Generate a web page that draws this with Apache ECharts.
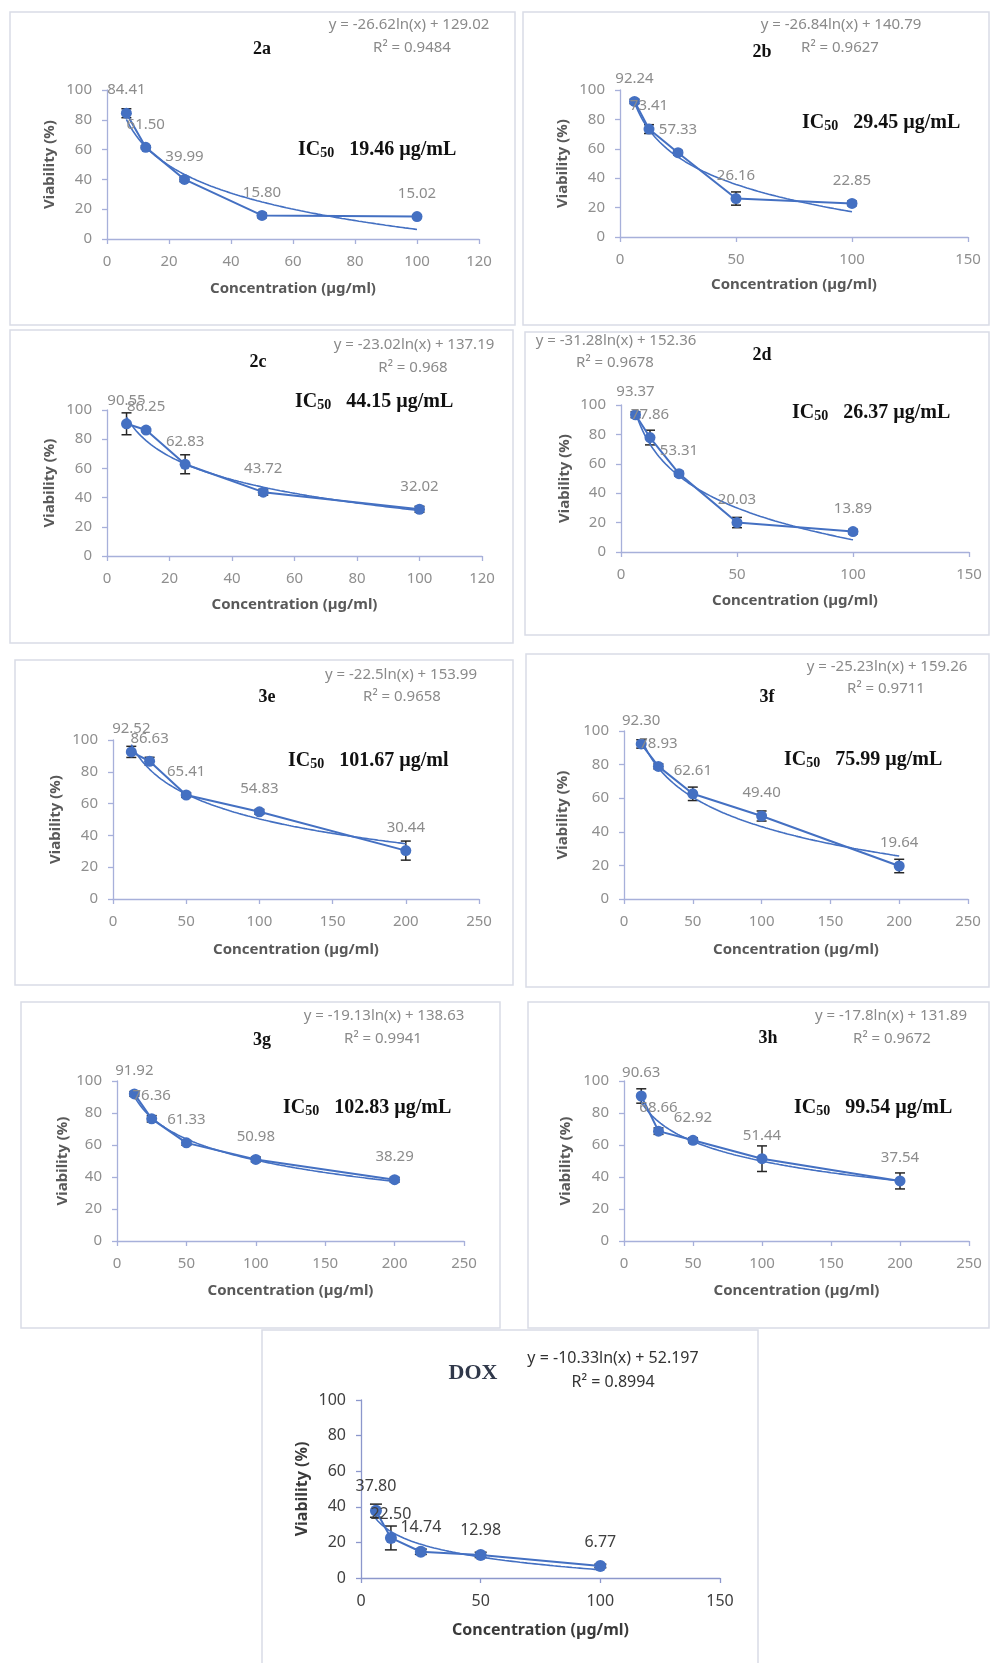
<!DOCTYPE html>
<html><head><meta charset="utf-8">
<script src="https://cdn.jsdelivr.net/npm/echarts@6/dist/echarts.min.js"></script>
<style>html,body{margin:0;padding:0;background:#fff}#c{width:991px;height:1663px}</style>
</head><body><div id="c"></div>
<script>
// ---------------- DATA ----------------
const panelNames = ['2a', '2b', '2c', '2d', '3e', '3f', '3g', '3h', 'DOX'];
const concLow  = [6.25, 12.5, 25, 50, 100];   // 2a-2d, DOX
const concHigh = [12.5, 25, 50, 100, 200];    // 3e-3h
const via2a  = [84.41, 61.50, 39.99, 15.80, 15.02];
const via2b  = [92.24, 73.41, 57.33, 26.16, 22.85];
const via2c  = [90.55, 86.25, 62.83, 43.72, 32.02];
const via2d  = [93.37, 77.86, 53.31, 20.03, 13.89];
const via3e  = [92.52, 86.63, 65.41, 54.83, 30.44];
const via3f  = [92.30, 78.93, 62.61, 49.40, 19.64];
const via3g  = [91.92, 76.36, 61.33, 50.98, 38.29];
const via3h  = [90.63, 68.66, 62.92, 51.44, 37.54];
const viaDOX = [37.80, 22.50, 14.74, 12.98, 6.77];
const err2a  = [3.0, 1.0, 1.5, 1.5, 1.0];
const err2b  = [1.5, 3.0, 1.5, 4.5, 1.5];
const err2c  = [7.5, 1.0, 6.5, 2.0, 2.0];
const err2d  = [2.0, 5.0, 1.5, 3.5, 1.5];
const err3e  = [3.5, 2.5, 1.5, 1.5, 6.0];
const err3f  = [2.5, 1.5, 4.0, 3.0, 4.0];
const err3g  = [1.5, 2.0, 1.5, 1.5, 1.5];
const err3h  = [4.5, 2.0, 1.5, 8.0, 5.0];
const errDOX = [3.7, 6.7, 1.5, 1.5, 1.0];
const trendSlope     = [-26.62, -26.84, -23.02, -31.28, -22.5, -25.23, -19.13, -17.8, -10.33];
const trendIntercept = [129.02, 140.79, 137.19, 152.36, 153.99, 159.26, 138.63, 131.89, 52.197];
const rSquared = ['0.9484', '0.9627', '0.968', '0.9678', '0.9658', '0.9711', '0.9941', '0.9672', '0.8994'];
const ic50Text = ['19.46 µg/mL', '29.45 µg/mL', '44.15 µg/mL', '26.37 µg/mL', '101.67 µg/ml', '75.99 µg/mL', '102.83 µg/mL', '99.54 µg/mL', null];
const xAxisMax = [120, 150, 120, 150, 250, 250, 250, 250, 150];
const xAxisStep = [20, 50, 20, 50, 50, 50, 50, 50, 50];
const yAxisMax = 100, yAxisStep = 20;
const xTitle = 'Concentration (µg/ml)';
const yTitle = 'Viability (%)';

const concs = [concLow, concLow, concLow, concLow, concHigh, concHigh, concHigh, concHigh, concLow];
const vias = [via2a, via2b, via2c, via2d, via3e, via3f, via3g, via3h, viaDOX];
const errs = [err2a, err2b, err2c, err2d, err3e, err3f, err3g, err3h, errDOX];

// ---------------- LAYOUT ----------------
const layout = [
  {grid:[107,90,372,149],  box:[10,12,505,313],  title:[262,49],  eq:[409,25],   r2:[412,48],   ic:[298,150],  yName:60, xName:52},
  {grid:[620,90,348,147],  box:[523,12,466,313], title:[762,52],  eq:[841,25],   r2:[840,48],   ic:[802,123],  yName:60, xName:50},
  {grid:[107,410,375,146], box:[10,330,503,313], title:[258,362], eq:[414,345],  r2:[413,368],  ic:[295,402],  yName:60, xName:51},
  {grid:[621,405,348,147], box:[525,332,464,303],title:[762,355], eq:[616,341],  r2:[615,363],  ic:[792,413],  yName:59, xName:51},
  {grid:[113,740,366,159], box:[15,660,498,325], title:[267,697], eq:[401,675],  r2:[402,697],  ic:[288,761],  yName:60, xName:53},
  {grid:[624,731,344,168], box:[526,654,463,333],title:[767,697], eq:[887,667],  r2:[886,689],  ic:[784,760],  yName:64, xName:53},
  {grid:[117,1081,347,160],box:[21,1002,479,326],title:[262,1040],eq:[384,1016], r2:[383,1039], ic:[283,1108], yName:57, xName:52},
  {grid:[624,1081,345,160],box:[528,1002,461,326],title:[768,1038],eq:[891,1016],r2:[892,1039], ic:[794,1108], yName:61, xName:52},
  {grid:[361,1400,359,178],box:[262,1330,496,340],title:[473,1373],eq:[613,1358], r2:[613,1382], ic:null,       yName:61, xName:54}
];
const FONT = '"Noto Sans", "DejaVu Sans", sans-serif';
const SERIF = '"Liberation Serif", "DejaVu Serif", serif';
const styleStd = {axis:'#a7b0da', tick:'#8f8f8f', tickSize:15, label:'#8c8c8c', labelSize:15, name:'#595959', nameSize:15, eq:'#8a8a8a', eqSize:15, sym:11, cap:5, titleSize:18, titleColor:'#111'};
const styleDox = {axis:'#8c97cc', tick:'#404040', tickSize:16, label:'#404040', labelSize:16, name:'#3a3a3a', nameSize:16, eq:'#333333', eqSize:16, sym:12, cap:6, titleSize:22, titleColor:'#30384a'};
const BLUE = '#4470c2';

const grids = [], xAxes = [], yAxes = [], series = [], graphics = [];
panelNames.forEach((name, i) => {
  const L = layout[i];
  const S = name === 'DOX' ? styleDox : styleStd;
  grids.push({left:L.grid[0], top:L.grid[1], width:L.grid[2], height:L.grid[3], containLabel:false});
  const axisCommon = {
    gridIndex:i, type:'value', min:0,
    axisLine:{show:true, lineStyle:{color:S.axis, width:1.3}},
    axisTick:{show:true, inside:false, length:5, lineStyle:{color:S.axis, width:1.3}},
    splitLine:{show:false},
    axisLabel:{color:S.tick, fontSize:S.tickSize, fontFamily:FONT, margin:15},
    nameLocation:'middle',
    nameTextStyle:{color:S.name, fontSize:S.nameSize, fontWeight:'bold', fontFamily:FONT}
  };
  xAxes.push(Object.assign({}, axisCommon, {max:xAxisMax[i], interval:xAxisStep[i], name:xTitle, nameGap:L.xName - 10}));
  yAxes.push(Object.assign({}, axisCommon, {max:yAxisMax, interval:yAxisStep, name:yTitle, nameGap:L.yName - 10}));

  const xs = concs[i], ys = vias[i], es = errs[i];
  // error bars
  series.push({
    type:'custom', xAxisIndex:i, yAxisIndex:i, z:1, silent:true,
    data: xs.map((x, j) => [x, ys[j], es[j]]),
    encode:{x:0, y:1},
    renderItem: (params, api) => {
      const x = api.value(0), y = api.value(1), e = api.value(2);
      const t = api.coord([x, y + e]), b = api.coord([x, y - e]);
      const hw = S.cap, st = {stroke:'#262626', lineWidth:1.5};
      return {type:'group', children:[
        {type:'line', shape:{x1:t[0], y1:t[1], x2:b[0], y2:b[1]}, style:st},
        {type:'line', shape:{x1:t[0]-hw, y1:t[1], x2:t[0]+hw, y2:t[1]}, style:st},
        {type:'line', shape:{x1:b[0]-hw, y1:b[1], x2:b[0]+hw, y2:b[1]}, style:st}
      ]};
    }
  });
  // logarithmic trendline from the displayed equation
  const x0 = xs[0], x1 = xs[xs.length - 1], trend = [];
  for (let k = 0; k <= 120; k++) {
    const x = x0 + (x1 - x0) * k / 120;
    trend.push([x, trendSlope[i] * Math.log(x) + trendIntercept[i]]);
  }
  series.push({
    type:'line', xAxisIndex:i, yAxisIndex:i, z:2, silent:true, showSymbol:false, symbol:'none',
    data:trend, lineStyle:{color:BLUE, width:1.6}, animation:false
  });
  // data series
  series.push({
    type:'line', xAxisIndex:i, yAxisIndex:i, z:3,
    data: xs.map((x, j) => [x, ys[j]]),
    symbol:'circle', symbolSize:S.sym,
    lineStyle:{color:BLUE, width:2}, itemStyle:{color:BLUE},
    label:{show:true, position:'top', distance:10, color:S.label, fontSize:S.labelSize, fontFamily:FONT,
           formatter: p => p.value[1].toFixed(2)},
    animation:false
  });

  graphics.push({type:'rect', z:-1, silent:true, shape:{x:L.box[0], y:L.box[1], width:L.box[2], height:L.box[3]},
    style:{fill:'none', stroke:'#d9dce6', lineWidth:1.5}});
  graphics.push({type:'text', x:L.title[0], y:L.title[1], style:{text:name, font:'bold ' + S.titleSize + 'px ' + SERIF,
    fill:S.titleColor, textAlign:'center', textVerticalAlign:'middle'}});
  graphics.push({type:'text', x:L.eq[0], y:L.eq[1], style:{text:'y = ' + trendSlope[i] + 'ln(x) + ' + trendIntercept[i],
    font:S.eqSize + 'px ' + FONT, fill:S.eq, textAlign:'center', textVerticalAlign:'middle'}});
  graphics.push({type:'text', x:L.r2[0], y:L.r2[1], style:{text:'R² = ' + rSquared[i],
    font:S.eqSize + 'px ' + FONT, fill:S.eq, textAlign:'center', textVerticalAlign:'middle'}});
  if (ic50Text[i]) {
    graphics.push({type:'text', x:L.ic[0], y:L.ic[1], style:{
      text:'{a|IC}{b|50}{a|   ' + ic50Text[i] + '}',
      textAlign:'left', textVerticalAlign:'middle',
      rich:{
        a:{font:'bold 20px ' + SERIF, fill:'#111'},
        b:{font:'bold 14px ' + SERIF, fill:'#111', verticalAlign:'bottom'}
      }
    }});
  }
});

const chart = echarts.init(document.getElementById('c'), null, {renderer:'canvas', width:991, height:1663});
chart.setOption({
  animation:false,
  backgroundColor:'#ffffff',
  grid:grids, xAxis:xAxes, yAxis:yAxes, series:series, graphic:graphics
});
</script></body></html>
